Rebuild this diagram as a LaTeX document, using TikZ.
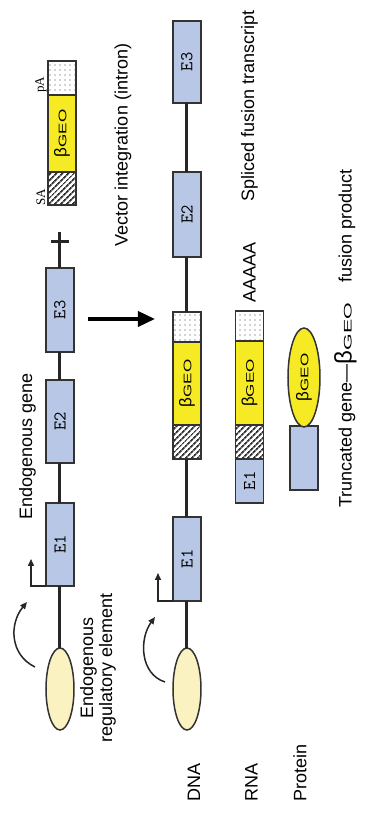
\documentclass[tikz,border=0pt]{standalone}
\usepackage{fontspec}
\setmainfont{Liberation Serif}
\setsansfont{Liberation Sans}
\usepackage{graphicx}
\usepackage{xcolor}
\usetikzlibrary{positioning,arrows.meta,shapes.geometric,patterns.meta}

\definecolor{exonblue}{RGB}{183,199,229}
\definecolor{geoyellow}{RGB}{245,234,35}
\definecolor{enhyellow}{RGB}{251,242,194}

\newcommand{\bgeo}[3]{{\sffamily\fontsize{#1}{#1}\selectfont β}{\sffamily\fontsize{#2}{#2}\selectfont\scalebox{#3}[1]{GEO}}}

\begin{document}
\begin{tikzpicture}[x=1pt, y=1pt,
    box/.style={draw=black!80, line width=1.6pt, inner sep=0pt, outer sep=0pt, minimum height=28pt},
    exon/.style={box, fill=exonblue, font=\ttfamily\fontsize{18}{18}\selectfont},
    sabox/.style={box, pattern={Lines[angle=45,distance=4pt,line width=1.8pt]}, pattern color=black!80},
    geobox/.style={box, fill=geoyellow},
    pabox/.style={box, pattern={Dots[distance=5pt,radius=0.9pt]}, pattern color=black!35},
    enh/.style={ellipse, draw=black!80, line width=1.5pt, fill=enhyellow, inner sep=0pt, outer sep=0pt, minimum width=82pt, minimum height=28pt},
    dna/.style={line width=3pt, black!85},
    tss/.style={line width=1.5pt, black!85, -{Triangle[length=7pt,width=6pt]}},
    act/.style={line width=1.5pt, black!85, -{Triangle[length=7pt,width=6pt]}},
    bigarr/.style={line width=3.5pt, -{Triangle[length=17pt,width=15pt]}},
    lbl/.style={font=\sffamily\fontsize{18}{19}\selectfont, inner sep=0pt},
    sml/.style={font=\rmfamily\fontsize{13}{13}\selectfont, inner sep=0pt}]
  \begin{scope}[rotate=90, transform shape]
    \useasboundingbox (0,0) rectangle (820,366);
    % Endogenous gene
    \node[enh] (enh1) at (131,306) {};
    \node[exon, minimum width=83pt] (e1a) at (275.5,306) {E1};
    \node[exon, minimum width=83pt] (e2a) at (398.5,306) {E2};
    \node[exon, minimum width=84pt] (e3a) at (510,306) {E3};
    \coordinate (plusend) at (588,306);
    \coordinate (plustop) at (578,315);
    \coordinate (plusbot) at (578,297);
    \node[lbl] (genelbl) at (373.5,338.5) {Endogenous gene};
    \node[lbl, align=center] (enhlbl) at (152,268) {Endogenous\\regulatory element};
    \coordinate (act1s) at (153,331);
    \coordinate (act1e) at (218,339);
    % Vector
    \node[sabox, minimum width=33pt] (sav) at (631.5,304) {};
    \node[geobox, minimum width=77pt, right=0pt of sav] (geov) {\bgeo{17}{11}{1.55}};
    \node[pabox, minimum width=34pt, right=0pt of geov] (pav) {};
    \node[sml] (salbl) at (623,325) {SA};
    \node[sml] (palbl) at (735,325) {pA};
    \node[lbl] (veclbl) at (675,243) {Vector integration (intron)};
    \coordinate (arrtop) at (501,278);
    \coordinate (arrbot) at (501,211);
    % DNA
    \node[enh] (enh2) at (131,179) {};
    \node[exon, minimum width=84pt] (e1b) at (261,179) {E1};
    \node[sabox, minimum width=34pt] (sab) at (378,179) {};
    \node[geobox, minimum width=83pt, right=0pt of sab] (geob) {\bgeo{17}{11}{1.55}};
    \node[pabox, minimum width=30pt, right=0pt of geob] (pab) {};
    \node[exon, minimum width=85pt] (e2b) at (605.5,179) {E2};
    \node[exon, minimum width=82pt] (e3b) at (758,179) {E3};
    \coordinate (act2s) at (138,201);
    \coordinate (act2e) at (203,211);
    % RNA
    \node[exon, minimum width=44pt] (e1c) at (339,116.5) {E1};
    \node[sabox, minimum width=34pt, right=0pt of e1c] (sac) {};
    \node[geobox, minimum width=84pt, right=0pt of sac] (geoc) {\bgeo{17}{11}{1.55}};
    \node[pabox, minimum width=30pt, right=0pt of geoc] (pac) {};
    \node[lbl, right=8pt of pac] (polya) {AAAAA};
    \node[lbl, anchor=west] (spllbl) at (618,116.5) {Spliced fusion transcript};
    % Protein
    \node[box, fill=exonblue, minimum width=64pt] (protn) at (362,62) {};
    \node[ellipse, draw=black!80, line width=1.5pt, fill=geoyellow, inner sep=0pt, outer sep=0pt,
          minimum width=99pt, minimum height=32pt, right=-1pt of protn] (protc) {\bgeo{17}{11}{1.55}};
    \node[lbl, anchor=west] (fuslbl) at (312,20.5) {Truncated gene—\bgeo{24}{11}{1.95}\hspace{20pt}fusion product};
    % row labels
    \node[lbl, anchor=west] (dnalbl) at (18,172) {DNA};
    \node[lbl, anchor=west] (rnalbl) at (18,114.5) {RNA};
    \node[lbl, anchor=west] (protlbl) at (18,66) {Protein};
    % edges
    \draw[dna] (enh1) -- (e1a);
    \draw[dna] (e1a) -- (e2a);
    \draw[dna] (e2a) -- (e3a);
    \draw[dna] (e3a) -- (plusend);
    \draw[dna] (plustop) -- (plusbot);
    \draw[dna] (enh2) -- (e1b);
    \draw[dna] (e1b) -- (sab);
    \draw[dna] (pab) -- (e2b);
    \draw[dna] (e2b) -- (e3b);
    \draw[tss] (e1a.north west) -- ++(0,15) -- ++(27,0);
    \draw[tss] (e1b.north west) -- ++(0,15) -- ++(28,0);
    \draw[act] (act1s) .. controls +(12,25) and +(-22,18) .. (act1e);
    \draw[act] (act2s) .. controls +(8,25) and +(-22,16) .. (act2e);
    \draw[bigarr] (arrtop) -- (arrbot);
  \end{scope}
\end{tikzpicture}
\end{document}
